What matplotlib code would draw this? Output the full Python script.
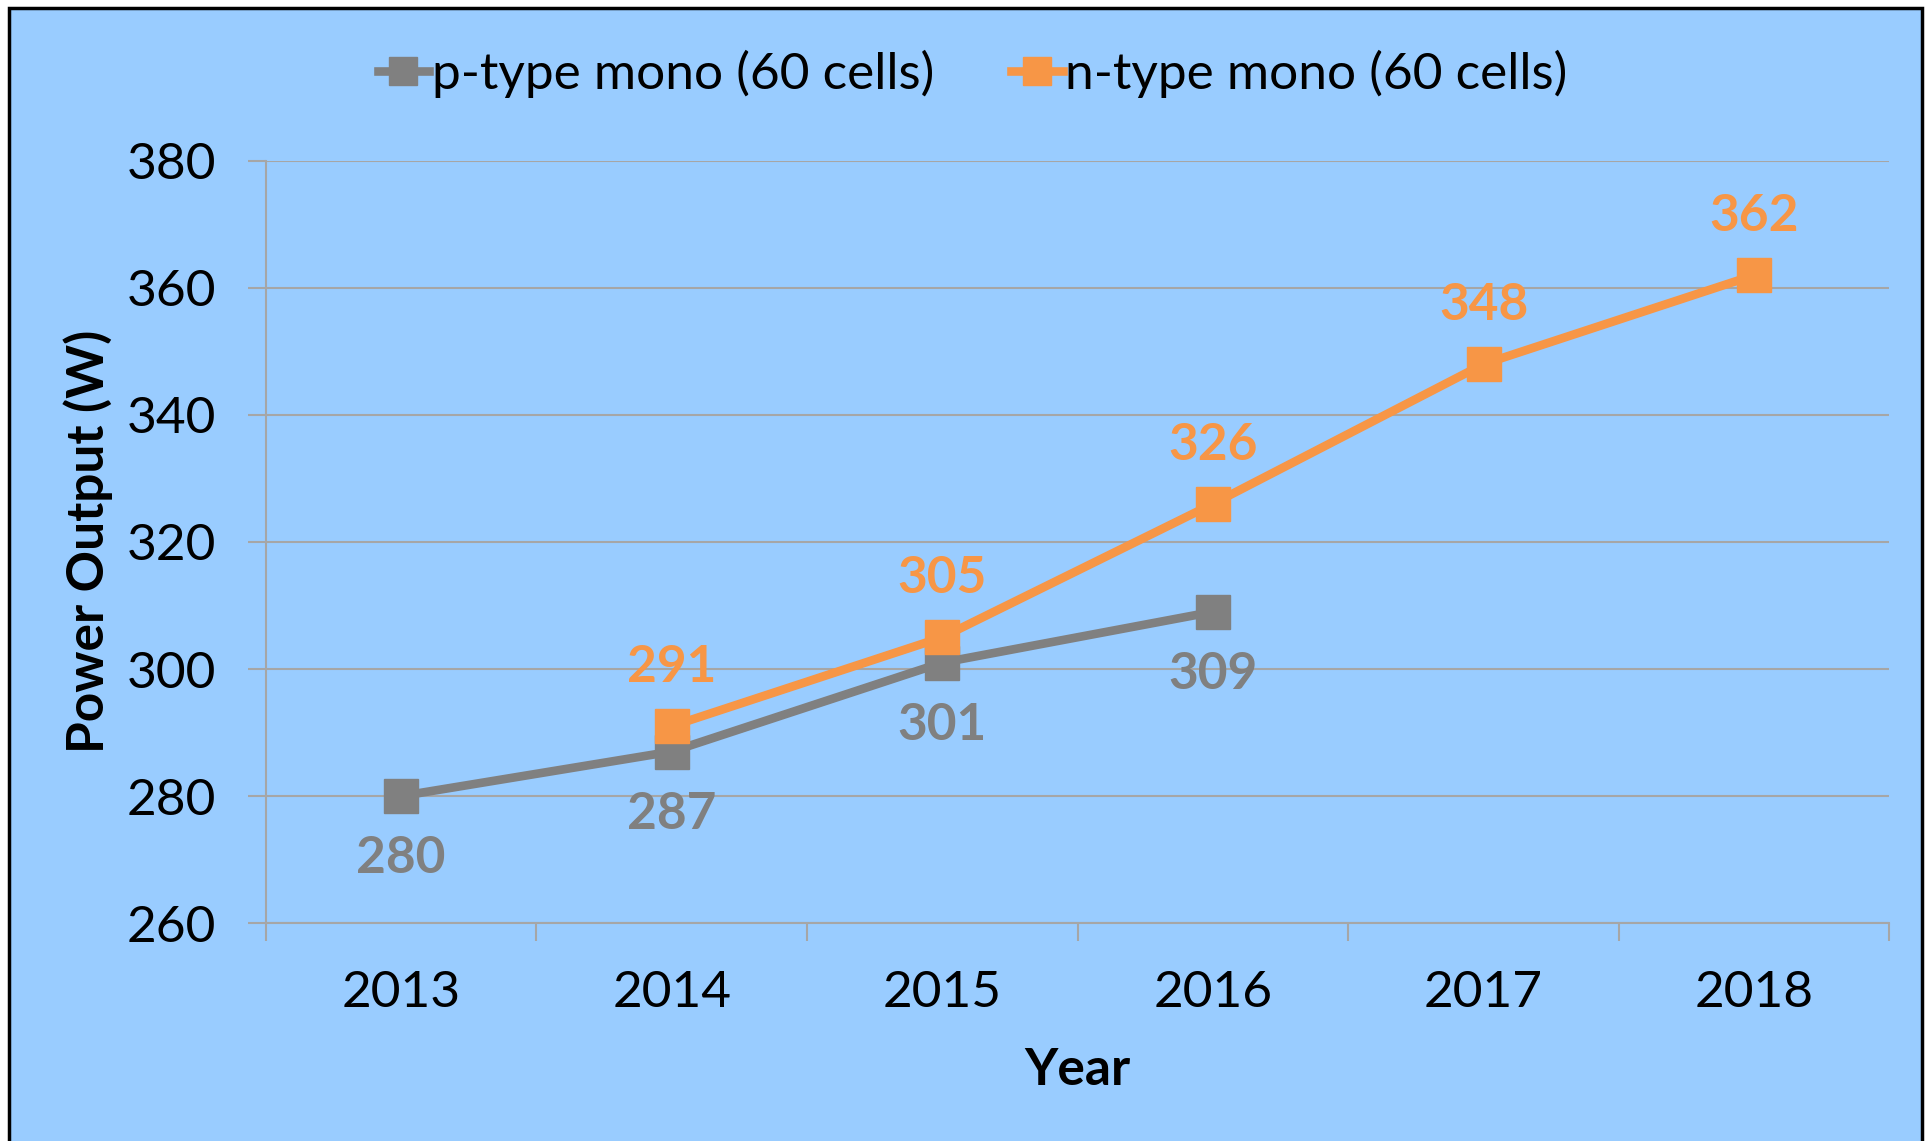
import numpy as np
import matplotlib.pyplot as plt
from matplotlib.patches import Rectangle

plt.rcParams['font.family'] = ['Lato', 'DejaVu Sans']

years = ['2013', '2014', '2015', '2016', '2017', '2018']
p_idx = [0, 1, 2, 3]
p_vals = [280, 287, 301, 309]
n_idx = [1, 2, 3, 4, 5]
n_vals = [291, 305, 326, 348, 362]
yticks = [260, 280, 300, 320, 340, 360, 380]

bg = '#99CCFF'
grey = '#808080'
orange = '#F79646'
gridc = '#A6A6A6'
fs = 37

fig = plt.figure(figsize=(19.26, 11.41), dpi=100)
fig.patch.set_facecolor('white')
# blue panel with black frame (bottom edge runs off the canvas)
fig.patches.append(Rectangle((9 / 1926, -0.02), (1922 - 9) / 1926, 1.02 - 8 / 1141,
                             transform=fig.transFigure, facecolor=bg,
                             edgecolor='black', linewidth=2.5, zorder=-1))

ax = fig.add_axes([0.138, 0.191, 0.843, 0.668])
ax.patch.set_alpha(0)

ax.plot(p_idx, p_vals, color=grey, lw=6.2, marker='s', ms=24, label='p-type mono (60 cells)')
ax.plot(n_idx, n_vals, color=orange, lw=6.2, marker='s', ms=24, label='n-type mono (60 cells)')

for x, v in zip(p_idx, p_vals):
    ax.annotate(str(v), (x, v), xytext=(0, -45), textcoords='offset points',
                ha='center', va='center', color=grey, fontsize=fs, fontweight='bold')
for x, v in zip(n_idx, n_vals):
    ax.annotate(str(v), (x, v), xytext=(0, 42), textcoords='offset points',
                ha='center', va='center', color=orange, fontsize=fs, fontweight='bold')

ax.set_xlim(-0.5, 5.5)
ax.set_ylim(260, 380)
ax.set_yticks(yticks)
ax.set_xticks(range(len(years)))
ax.set_xticklabels(years)
ax.set_xticks(np.arange(-0.5, 5.6, 1), minor=True)
ax.tick_params(axis='x', which='major', length=0, pad=34, labelsize=fs)
ax.tick_params(axis='x', which='minor', length=13, width=1.5, color=gridc)
ax.tick_params(axis='y', length=13, width=1.5, color=gridc, pad=23, labelsize=fs)
ax.grid(axis='y', color=gridc, lw=1.5)
ax.set_axisbelow(True)
for s in ['top', 'right']:
    ax.spines[s].set_visible(False)
for s in ['left', 'bottom']:
    ax.spines[s].set_color(gridc)
    ax.spines[s].set_linewidth(1.5)

ax.set_xlabel('Year', fontsize=fs, fontweight='bold', labelpad=22)
fig.text(88 / 1926, 1 - 541 / 1141, 'Power Output (W)', rotation=90, ha='center', va='center',
         fontsize=fs, fontweight='bold')

fig.legend(loc='center', bbox_to_anchor=(0.505, 0.935), ncol=2, frameon=False,
           fontsize=fs, handlelength=1.0, handletextpad=0.05, columnspacing=1.5,
           markerscale=0.85)

fig.savefig('out.png', dpi=100)
